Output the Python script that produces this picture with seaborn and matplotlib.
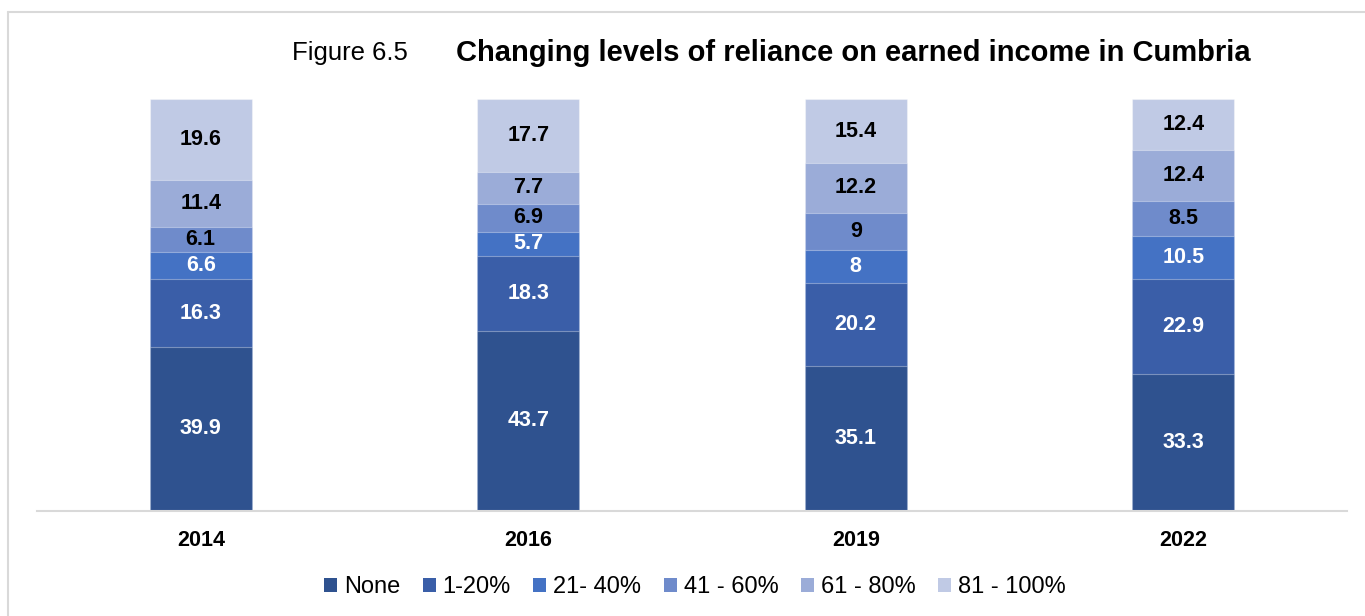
import matplotlib
matplotlib.use("Agg")
import matplotlib.pyplot as plt
from matplotlib.lines import Line2D
from matplotlib.patches import Patch
import seaborn as sns
import pandas as pd

years = ["2014", "2016", "2019", "2022"]
bands = ["None", "1-20%", "21- 40%", "41 - 60%", "61 - 80%", "81 - 100%"]
none_pct = [39.9, 43.7, 35.1, 33.3]
pct_1_20 = [16.3, 18.3, 20.2, 22.9]
pct_21_40 = [6.6, 5.7, 8, 10.5]
pct_41_60 = [6.1, 6.9, 9, 8.5]
pct_61_80 = [11.4, 7.7, 12.2, 12.4]
pct_81_100 = [19.6, 17.7, 15.4, 12.4]

colors = ["#2F528F", "#3A5EA8", "#4472C4", "#6F8BCB", "#9BACD8", "#C0CAE5"]
label_colors = ["white", "white", "white", "black", "black", "black"]

series = [none_pct, pct_1_20, pct_21_40, pct_41_60, pct_61_80, pct_81_100]
df = pd.DataFrame(dict(zip(bands, series)), index=years)
cum = df.cumsum(axis=1)

sns.set_style("white")
plt.rcParams["font.family"] = ["Liberation Sans", "DejaVu Sans"]
plt.rcParams["text.color"] = "black"
plt.rcParams["xtick.color"] = "black"

fig = plt.figure(figsize=(13.65, 6.16), dpi=100)
ax = fig.add_axes([37 / 1365, 1 - 511 / 616, 1310 / 1365, 412 / 616])

# stacked bars: draw cumulative totals from the top band down
for i in range(len(bands) - 1, -1, -1):
    sns.barplot(x=years, y=cum[bands[i]].values, color=colors[i], width=0.31,
                linewidth=0.8, edgecolor=(1, 1, 1, 0.35), saturation=1, ax=ax, zorder=2)

for i, band in enumerate(bands):
    bottoms = cum[band].values - df[band].values
    for j, v in enumerate(df[band].values):
        ax.text(j, bottoms[j] + v / 2, f"{v:g}", ha="center", va="center",
                fontsize=15.5, fontweight="bold", color=label_colors[i], zorder=3)

ax.set_xlim(-0.5, 3.5)
ax.set_ylim(0, 100)
ax.set_yticks([])
ax.set_ylabel("")
for s in ["top", "right", "left"]:
    ax.spines[s].set_visible(False)
ax.spines["bottom"].set_color("#D9D9D9")
ax.spines["bottom"].set_linewidth(1.5)
ax.tick_params(axis="x", length=0, pad=14, labelcolor="black")
for t in ax.get_xticklabels():
    t.set_fontsize(15.5)
    t.set_fontweight("bold")

fig.text(292 / 1365, 1 - 53 / 616, "Figure 6.5", fontsize=18.5, va="center", ha="left")
fig.text(456 / 1365, 1 - 53 / 616, "Changing levels of reliance on earned income in Cumbria",
         fontsize=21, fontweight="bold", va="center", ha="left")

handles = [Patch(facecolor=c, edgecolor="none") for c in colors]
fig.legend(handles, bands, loc="center", bbox_to_anchor=(695 / 1365, 1 - 587 / 616),
           ncol=6, frameon=False, fontsize=17, handlelength=0.55, handleheight=0.55,
           handletextpad=0.3, columnspacing=0.95)

# outer border (top and left)
fig.add_artist(Line2D([8 / 1365, 1], [1 - 12 / 616, 1 - 12 / 616], color="#D9D9D9", lw=1.5))
fig.add_artist(Line2D([8 / 1365, 8 / 1365], [0, 1 - 12 / 616], color="#D9D9D9", lw=1.5))

fig.savefig("out.png", dpi=100)
